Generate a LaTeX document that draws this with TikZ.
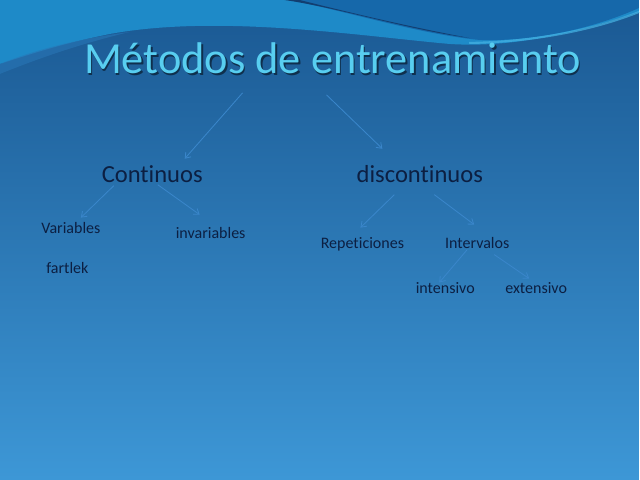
\documentclass[tikz,border=0pt]{standalone}
\usepackage{fontspec}
\setmainfont[RawFeature={-liga}]{Carlito}
\usetikzlibrary{arrows.meta}
\definecolor{navy}{HTML}{0C1F42}
\definecolor{titlecyan}{HTML}{58CEF0}
\definecolor{linkblue}{HTML}{3A86CA}
\begin{document}
\begin{tikzpicture}[x=0.025cm, y=-0.025cm,
  every node/.style = {inner sep=0pt, anchor=base, text=navy},
  big/.style = {font=\fontsize{17.5}{20}\selectfont},
  small/.style = {font=\fontsize{11.4}{13}\selectfont},
  link/.style = {draw=linkblue, line width=0.6pt,
    -{Straight Barb[length=3.5pt, width=5pt]}}]
  % background and top swoosh
  \shade[top color={rgb,255:red,26;green,88;blue,146},
    middle color={rgb,255:red,44;green,120;blue,185},
    bottom color={rgb,255:red,61;green,151;blue,214}]
    (0,0) rectangle (640,480);
  \fill[color={rgb,255:red,30;green,138;blue,200}]
    (0,0) -- (640,0) -- (640,12)
    .. controls (570,35) and (510,48) .. (450,44)
    .. controls (360,36) and (220,14) .. (110,34)
    .. controls (60,44) and (25,56) .. (0,64) -- cycle;
  \fill[color={rgb,255:red,22;green,104;blue,170}]
    (290,0) .. controls (350,12) and (420,34) .. (480,40)
    .. controls (540,42) and (600,26) .. (640,8) -- (640,0) -- cycle;
  \fill[color={rgb,255:red,18;green,62;blue,112}]
    (285,0) .. controls (340,8) and (410,30) .. (470,38)
    .. controls (405,26) and (340,10) .. (300,0) -- cycle;
  \draw[color={rgb,255:red,70;green,180;blue,228}, line width=1.5pt, opacity=0.7]
    (470,43) .. controls (540,42) and (600,28) .. (640,12);
  \fill[color={rgb,255:red,40;green,118;blue,182}, opacity=0.6]
    (0,64) .. controls (30,52) and (70,40) .. (130,32)
    .. controls (80,44) and (40,58) .. (0,74) -- cycle;
  % title
  \node[text=black, opacity=0.5, font=\fontsize{31.6}{36}\selectfont]
    at (334.5,75.5) {Métodos de entrenamiento};
  \node (title) [text=titlecyan, font=\fontsize{31.6}{36}\selectfont]
    at (333,74) {Métodos de entrenamiento};
  % tree
  \node (cont) [big] at (152.5,183) {Continuos};
  \node (disc) [big] at (420.5,183) {discontinuos};
  \node (var) [small] at (71,234) {Variables};
  \node (invar) [small] at (211,239) {invariables};
  \node (fart) [small] at (67.5,274) {fartlek};
  \node (rep) [small] at (363,249) {Repeticiones};
  \node (inter) [small] at (478,249) {Intervalos};
  \node (intens) [small] at (446,294) {intensivo};
  \node (extens) [small] at (537,294) {extensivo};
  \draw[link] ([shift={(-90,19)}]title.base) -- ([shift={(32.5,-24)}]cont.base);
  \draw[link] ([shift={(-6,21)}]title.base) -- ([shift={(-37.5,-34)}]disc.base);
  \draw[link] ([shift={(-38.5,3)}]cont.base) -- ([shift={(10,-16)}]var.base);
  \draw[link] ([shift={(5.5,2)}]cont.base) -- ([shift={(-11,-24)}]invar.base);
  \draw[link] ([shift={(-25.5,12)}]disc.base) -- ([shift={(-2,-21)}]rep.base);
  \draw[link] ([shift={(14.5,12)}]disc.base) -- ([shift={(-3,-24)}]inter.base);
  \draw[link] ([shift={(-10,1)}]inter.base) -- ([shift={(-6,-11)}]intens.base);
  \draw[link] ([shift={(17,6)}]inter.base) -- ([shift={(-7,-15)}]extens.base);
\end{tikzpicture}
\end{document}
